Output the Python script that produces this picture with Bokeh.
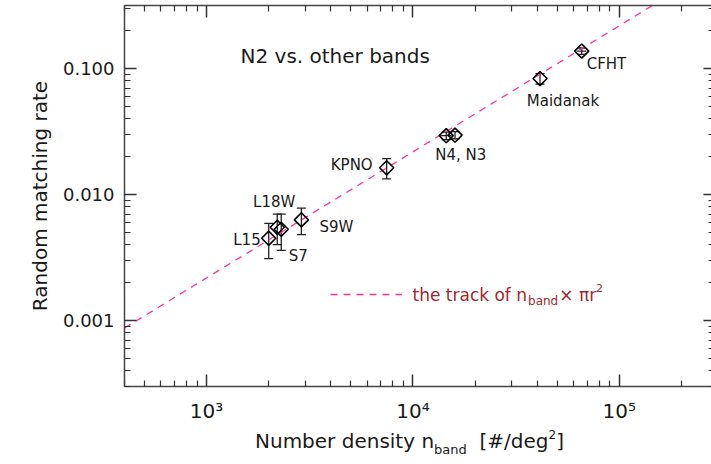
import numpy as np
from bokeh.plotting import figure
from bokeh.layouts import column
from bokeh.models import (LogAxis, FixedTicker, CustomJSTickFormatter, Whisker, TeeHead,
                          ColumnDataSource, Label, Range1d, Legend, LegendItem, Div)
from bokeh.embed import file_html
from bokeh.resources import INLINE

# ---- data ----
names = ["L15", "L18W", "S7", "S9W", "KPNO", "N4", "N3", "Maidanak", "CFHT"]
density = [2000, 2200, 2300, 2880, 7460, 14500, 16000, 41300, 65800]
rate = [0.0045, 0.0055, 0.0053, 0.0063, 0.0163, 0.0293, 0.0296, 0.0832, 0.1374]
rate_err = [0.0014, 0.0015, 0.0017, 0.0015, 0.0030, 0.0020, 0.0020, 0.0080, 0.0080]
density_err = [0, 0, 0, 0, 0, 900, 0, 0, 3500]
match_radius_arcsec = 3.0
x_ticks = [1e3, 1e4, 1e5]
y_ticks = [1e-3, 1e-2, 1e-1]

FONT = "DejaVu Sans"
TXT = "#1a1a1a"
PINK = "#ff3399"
DARKRED = "#a0282e"

x_lo, x_hi = 400, 2.8e5
y_lo, y_hi = 3.0e-4, 0.316

W, H = 711, 425
FL, FB_BORDER, FT = 124, 38, 5
FRAME_BOTTOM = H - FB_BORDER  # page y of frame bottom

p = figure(width=W, height=H, x_axis_type="log", y_axis_type="log",
           x_range=Range1d(x_lo, x_hi), y_range=Range1d(y_lo, y_hi),
           output_backend="svg", toolbar_location=None,
           min_border_left=FL, min_border_right=0, min_border_top=FT,
           min_border_bottom=FB_BORDER)
p.grid.visible = False
p.outline_line_color = None

minor_x = [k * 10 ** e for e in range(2, 6) for k in range(2, 10)]
minor_y = [k * 10.0 ** e for e in range(-4, 0) for k in range(2, 10)]

def style_axis(ax, show_labels=True):
    ax.axis_line_color = "#444444"
    ax.axis_line_width = 1.5
    ax.major_tick_in = 12
    ax.major_tick_out = 0
    ax.minor_tick_in = 6
    ax.minor_tick_out = 0
    ax.major_tick_line_color = "#333333"
    ax.minor_tick_line_color = "#333333"
    ax.major_tick_line_width = 1.5
    ax.minor_tick_line_width = 1.2
    ax.major_label_text_font = FONT
    ax.major_label_text_color = TXT
    ax.axis_label_text_font = FONT
    ax.axis_label_text_color = TXT
    ax.axis_label_text_font_style = "normal"
    if not show_labels:
        ax.major_label_text_font_size = "0px"
        ax.major_label_standoff = 0

xfmt = CustomJSTickFormatter(code="""
const e = Math.round(Math.log10(tick));
const sup = {'0':'\u2070','1':'\u00b9','2':'\u00b2','3':'\u00b3','4':'\u2074','5':'\u2075','6':'\u2076'};
return '10' + String(e).split('').map(c => sup[c] || c).join('');
""")
yfmt = CustomJSTickFormatter(code="return tick.toFixed(3);")

xa = p.xaxis[0]
xa.ticker = FixedTicker(ticks=x_ticks, minor_ticks=minor_x)
xa.formatter = xfmt
style_axis(xa)
xa.major_label_text_font_size = "20px"
xa.major_label_standoff = 12

ya = p.yaxis[0]
ya.ticker = FixedTicker(ticks=y_ticks, minor_ticks=minor_y)
ya.formatter = yfmt
style_axis(ya)
ya.major_label_text_font_size = "18px"
ya.major_label_standoff = 10
ya.axis_label = "Random matching rate"
ya.axis_label_text_font_size = "20px"
ya.axis_label_standoff = 8

top = LogAxis(ticker=FixedTicker(ticks=x_ticks, minor_ticks=minor_x),
              formatter=CustomJSTickFormatter(code="return '';"))
style_axis(top, False)
right = LogAxis(ticker=FixedTicker(ticks=y_ticks, minor_ticks=minor_y),
                formatter=CustomJSTickFormatter(code="return '';"))
style_axis(right, False)
right.axis_line_alpha = 0          # the right frame edge sits just outside the picture
right.major_tick_in = 8
right.minor_tick_in = 3
p.add_layout(top, "above")
p.add_layout(right, "right")

# ---- track line n * pi r^2 ----
area_deg2 = np.pi * (match_radius_arcsec / 3600.0) ** 2
track_x = np.array([x_lo, x_hi], dtype=float)
track_y = track_x * area_deg2
track = p.line(track_x, track_y, line_color=PINK, line_width=1.3, line_dash="7 6")

# ---- error bars ----
r = np.array(rate)
d = np.array(density, dtype=float)
re = np.array(rate_err)
de = np.array(density_err, dtype=float)
src = ColumnDataSource(dict(x=d, y=r, lo=r - re, hi=r + re, name=names))
head = dict(size=9, line_color="#222222", line_width=1.3)
p.add_layout(Whisker(source=src, base="x", lower="lo", upper="hi", dimension="height",
                     line_color="#222222", line_width=1.3,
                     upper_head=TeeHead(**head), lower_head=TeeHead(**head)))
m = de > 0
xe_src = ColumnDataSource(dict(y=r[m], xlo=(d - de)[m], xhi=(d + de)[m]))
p.add_layout(Whisker(source=xe_src, base="y", lower="xlo", upper="xhi", dimension="width",
                     line_color="#222222", line_width=1.3, upper_head=None, lower_head=None))

p.scatter("x", "y", source=src, marker="square", angle=np.pi / 4, size=10,
          fill_color=None, line_color="black", line_width=1.6)

# ---- point labels (pixel offsets from each point) ----
offsets = {
    "L15": (-8, -2, "right"),
    "L18W": (-3, 25, "center"),
    "S7": (17, -27, "center"),
    "S9W": (18, -7, "left"),
    "KPNO": (-14, 3, "right"),
    "N4": (-11, -19, "left"),
    "Maidanak": (23, -22, "center"),
    "CFHT": (5, -13, "left"),
}
label_text = {"N4": "N4, N3"}
for nm, xx, yy in zip(names, density, rate):
    if nm not in offsets:
        continue
    dx, dy, al = offsets[nm]
    p.add_layout(Label(x=xx, y=yy, x_offset=dx, y_offset=dy, text=label_text.get(nm, nm),
                       text_align=al, text_baseline="middle", text_font=FONT,
                       text_font_size="15px", text_color=TXT))

# ---- frame-positioned text (page px; screen units are relative to the frame) ----
ADV = {'t': .392, 'h': .634, 'e': .615, ' ': .318, 'r': .411, 'a': .613, 'c': .550,
       'k': .579, 'o': .612, 'f': .352, 'n': .634, 'b': .635, 'd': .635,
       '\u00d7': .838, '\u03c0': .602, '2': .636}

def twidth(txt, size):
    return sum(ADV.get(c, .6) for c in txt) * size

def stext(px, py, txt, size, color=TXT, align="left"):
    p.add_layout(Label(x=px - FL, y=FRAME_BOTTOM - py, x_units="screen", y_units="screen",
                       text=txt, text_font=FONT, text_font_size=f"{size}px", text_color=color,
                       text_align=align, text_baseline="middle"))

def rich(px, py, pieces, color=TXT):
    x = px
    for txt, size, dy, gap in pieces:
        stext(x, py + dy, txt, size, color)
        x += twidth(txt, size) + gap

stext(240, 56, "N2 vs. other bands", 20)

# legend for the track
leg = Legend(items=[LegendItem(label=" ", renderers=[track])],
             location=(330 - FL, FRAME_BOTTOM - 295 - 6),
             glyph_width=72, glyph_height=12, background_fill_alpha=0, border_line_alpha=0,
             label_text_font_size="1px", padding=0, spacing=0, margin=0, label_standoff=0)
p.add_layout(leg, "center")
rich(412, 295, [("the track of n", 17, 0, 1), ("band", 12, 6, 1),
                ("\u00d7 \u03c0r", 17, 0, 0), ("2", 11, -7, 0)], DARKRED)

# ---- x-axis title (below the plot, with sub- and superscript) ----
xtitle = Div(
    text=("<div style=\"font-family:'DejaVu Sans'; font-size:20px; line-height:20px; "
          "color:#1a1a1a; white-space:nowrap; margin-left:255px; padding-top:6px;\">"
          "Number density n<sub style=\"font-size:13px; vertical-align:-6px; line-height:0;\">band</sub>"
          "&nbsp;&nbsp;[#/deg<sup style=\"font-size:12px; vertical-align:9px; line-height:0;\">2</sup>]</div>"),
    width=W, height=34, margin=0)

layout = column(p, xtitle, spacing=0)
open("out.html", "w").write(file_html(layout, INLINE))
